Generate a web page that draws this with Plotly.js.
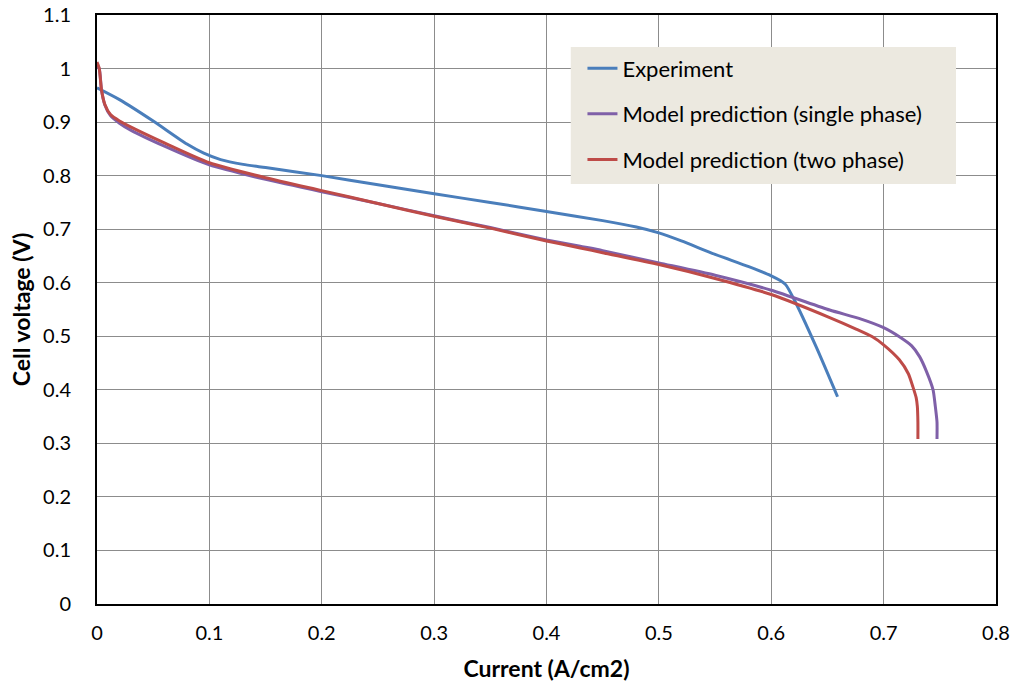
<!DOCTYPE html>
<html>
<head>
<meta charset="utf-8">
<script src="https://cdn.plot.ly/plotly-3.0.1.min.js"></script>
<style>html,body{margin:0;padding:0;background:#fff;}#chart{width:1013px;height:685px;}</style>
</head>
<body>
<div id="chart"></div>
<script>
const seriesNames = ["Experiment", "Model prediction (single phase)", "Model prediction (two phase)"];

const expX = [0, 0.02, 0.05, 0.08, 0.095, 0.11, 0.13, 0.15, 0.2, 0.25, 0.3, 0.35, 0.4, 0.45, 0.48, 0.5, 0.52, 0.55, 0.58, 0.6, 0.608, 0.613, 0.62, 0.64, 0.659];
const expY = [0.964, 0.942, 0.902, 0.859, 0.842, 0.830, 0.821, 0.815, 0.80, 0.783, 0.766, 0.75, 0.733, 0.716, 0.704, 0.693, 0.678, 0.653, 0.630, 0.613, 0.604, 0.596, 0.570, 0.480, 0.387];

const singleX = [0, 0.002, 0.004, 0.007, 0.012, 0.02, 0.03, 0.06, 0.1, 0.15, 0.2, 0.25, 0.3, 0.35, 0.4, 0.43, 0.45, 0.5, 0.55, 0.6, 0.652, 0.68, 0.7, 0.714, 0.725, 0.732, 0.738, 0.744, 0.746, 0.7475, 0.7475];
const singleY = [1.005, 1.0, 0.96, 0.932, 0.912, 0.898, 0.885, 0.855, 0.820, 0.793, 0.770, 0.748, 0.725, 0.703, 0.680, 0.668, 0.660, 0.637, 0.614, 0.586, 0.549, 0.532, 0.516, 0.499, 0.482, 0.462, 0.435, 0.40, 0.369, 0.34, 0.308];

const twoX = [0, 0.002, 0.004, 0.007, 0.012, 0.02, 0.029, 0.059, 0.1, 0.15, 0.2, 0.25, 0.3, 0.35, 0.4, 0.43, 0.45, 0.5, 0.55, 0.6, 0.652, 0.675, 0.69, 0.7, 0.714, 0.722, 0.726, 0.729, 0.730, 0.7305, 0.7305];
const twoY = [1.012, 1.0, 0.96, 0.933, 0.914, 0.902, 0.892, 0.862, 0.824, 0.796, 0.772, 0.748, 0.724, 0.702, 0.678, 0.665, 0.656, 0.634, 0.608, 0.578, 0.535, 0.514, 0.499, 0.484, 0.456, 0.43, 0.406, 0.385, 0.369, 0.34, 0.308];

const xTicks = [0, 0.1, 0.2, 0.3, 0.4, 0.5, 0.6, 0.7, 0.8];
const xTickText = ["0", "0.1", "0.2", "0.3", "0.4", "0.5", "0.6", "0.7", "0.8"];
const yTicks = [0, 0.1, 0.2, 0.3, 0.4, 0.5, 0.6, 0.7, 0.8, 0.9, 1, 1.1];
const yTickText = ["0", "0.1", "0.2", "0.3", "0.4", "0.5", "0.6", "0.7", "0.8", "0.9", "1", "1.1"];

const colors = ["#4A7EBB", "#7F60A8", "#BE4B48"];
const font = "Lato, 'Open Sans', sans-serif";

const traces = [
  {x: expX, y: expY, name: seriesNames[0], legendgroup: "a"},
  {x: singleX, y: singleY, name: seriesNames[1], legendgroup: "b"},
  {x: twoX, y: twoY, name: seriesNames[2], legendgroup: "c"}
].map((t, i) => Object.assign(t, {
  type: "scatter", mode: "lines",
  line: {color: colors[i], width: 3, shape: "spline", smoothing: 0.6}
}));

const layout = {
  width: 1013, height: 685,
  margin: {l: 97, r: 17, t: 15, b: 81},
  paper_bgcolor: "#fff", plot_bgcolor: "#fff",
  font: {family: font, size: 20, color: "#000"},
  showlegend: true,
  shapes: [{
    type: "rect", xref: "paper", yref: "paper",
    x0: 0.527, x1: 0.9555, y0: 0.713, y1: 0.9457,
    fillcolor: "#ECE9E0", line: {width: 0}, layer: "above"
  }],
  legend: {
    x: 0.540, y: 0.945, xanchor: "left", yanchor: "top",
    bgcolor: "rgba(0,0,0,0)", borderwidth: 0,
    font: {family: font, size: 22, color: "#000"},
    tracegroupgap: 14,
    itemwidth: 30
  },
  xaxis: {
    range: [0, 0.8], tickvals: xTicks, ticktext: xTickText,
    showgrid: true, gridcolor: "#8C8C8C", gridwidth: 1,
    showline: true, linecolor: "#000", linewidth: 2, mirror: true,
    ticks: "", zeroline: false,
    tickfont: {family: font, size: 20},
    ticklabelstandoff: 10,
    title: {text: "<b>Current (A/cm2)</b>", font: {family: font, size: 23}, standoff: 18}
  },
  yaxis: {
    range: [0, 1.1], tickvals: yTicks, ticktext: yTickText,
    showgrid: true, gridcolor: "#8C8C8C", gridwidth: 1,
    showline: true, linecolor: "#000", linewidth: 2, mirror: true,
    ticks: "", zeroline: false,
    tickfont: {family: font, size: 20},
    ticklabelstandoff: 20,
    title: {text: "<b>Cell voltage (V)</b>", font: {family: font, size: 23}, standoff: 6}
  }
};

Plotly.newPlot("chart", traces, layout, {staticPlot: true});
</script>
</body>
</html>
